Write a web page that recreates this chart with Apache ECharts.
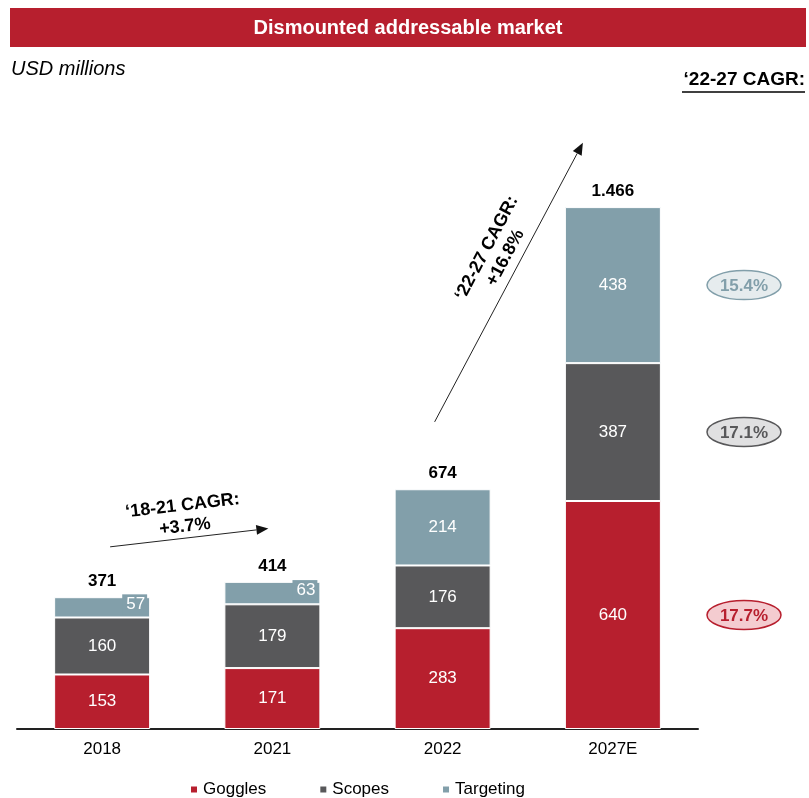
<!DOCTYPE html>
<html>
<head>
<meta charset="utf-8">
<script src="https://cdn.jsdelivr.net/npm/echarts@6/dist/echarts.min.js"></script>
<style>
  html, body { margin: 0; padding: 0; background: #fff; }
  #chart { width: 809px; height: 798px; }
</style>
</head>
<body>
<div id="chart"></div>
<script>
const categories = ['2018', '2021', '2022', '2027E']
const goggles = [153, 171, 283, 640]
const scopes = [160, 179, 176, 387]
const targeting = [57, 63, 214, 438]
const totals = [371, 414, 674, 1466]
const cagr2227 = ['17.7%', '17.1%', '15.4%'] // goggles, scopes, targeting
const cagr1821 = '+3.7%'
const cagrTotal2227 = '+16.8%'

const FONT = 'Liberation Sans, Arial, sans-serif'
const RED = '#B71F2E'
const GREY = '#58585A'
const BLUE = '#829FAA'

const chart = echarts.init(document.getElementById('chart'))

// thousands with dot, like 1.466
const fmt = (v) => String(v).replace(/\B(?=(\d{3})+(?!\d))/g, '.')

// small segments get their label pushed to the right with a coloured box
const segData = (arr, color) =>
  arr.map((v) => {
    if (v >= 100) return v
    return {
      value: v,
      label: {
        position: 'insideRight',
        offset: [2, -3],
        backgroundColor: color,
        padding: [3, 2, 0, 4]
      }
    }
  })

const segment = (name, arr, color) => ({
  name: name,
  type: 'bar',
  stack: 'total',
  barWidth: 96,
  itemStyle: { color: color, borderColor: '#fff', borderWidth: 1 },
  emphasis: { disabled: true },
  label: {
    show: true,
    position: 'inside',
    color: '#fff',
    fontSize: 17,
    fontFamily: FONT
  },
  data: segData(arr, color)
})

const options = {
  animation: false,
  grid: { left: 17, right: 111, top: 159, bottom: 69 },
  legend: {
    data: ['Goggles', 'Scopes', 'Targeting'],
    left: 184,
    top: 776,
    icon: 'rect',
    itemWidth: 8,
    itemHeight: 8,
    itemGap: 52,
    textStyle: { fontSize: 17, color: '#000', fontFamily: FONT }
  },
  xAxis: {
    type: 'category',
    data: categories,
    axisTick: { show: false },
    axisLine: { lineStyle: { color: '#222', width: 2 } },
    axisLabel: { color: '#000', fontSize: 17, margin: 12, fontFamily: FONT }
  },
  yAxis: {
    type: 'value',
    min: 0,
    max: 1600,
    show: false,
    splitLine: { show: false }
  },
  series: [
    segment('Goggles', goggles, RED),
    segment('Scopes', scopes, GREY),
    segment('Targeting', targeting, BLUE),
    {
      name: 'Total',
      type: 'line',
      data: totals,
      symbol: 'circle',
      symbolSize: 2,
      itemStyle: { color: 'rgba(0,0,0,0)' },
      lineStyle: { color: 'rgba(0,0,0,0)' },
      emphasis: { disabled: true },
      silent: true,
      label: {
        show: true,
        position: 'top',
        distance: 6,
        color: '#000',
        fontSize: 17,
        fontWeight: 'bold',
        fontFamily: FONT,
        formatter: (p) => fmt(p.value)
      }
    }
  ]
}
chart.setOption(options)

// annotations placed from the axes
const px = (i, v) => chart.convertToPixel({ gridIndex: 0 }, [i, v])

function arrow(p1, p2) {
  const dx = p2[0] - p1[0]
  const dy = p2[1] - p1[1]
  const len = Math.sqrt(dx * dx + dy * dy)
  const ux = dx / len
  const uy = dy / len
  const head = 12
  const hw = 5
  const bx = p2[0] - ux * head
  const by = p2[1] - uy * head
  return [
    {
      type: 'line',
      shape: { x1: p1[0], y1: p1[1], x2: bx, y2: by },
      style: { stroke: '#222', lineWidth: 1 }
    },
    {
      type: 'polygon',
      shape: { points: [[p2[0], p2[1]], [bx - uy * hw, by + ux * hw], [bx + uy * hw, by - ux * hw]] },
      style: { fill: '#111' }
    }
  ]
}

function arrowText(p1, p2, text, perp, along) {
  const dx = p2[0] - p1[0]
  const dy = p2[1] - p1[1]
  const len = Math.sqrt(dx * dx + dy * dy)
  const ux = dx / len
  const uy = dy / len
  const mx = (p1[0] + p2[0]) / 2 + uy * perp + ux * along
  const my = (p1[1] + p2[1]) / 2 - ux * perp + uy * along
  return {
    type: 'text',
    x: mx,
    y: my,
    rotation: Math.atan2(-dy, dx),
    style: {
      text: text,
      fill: '#000',
      font: 'bold 18px ' + FONT,
      lineHeight: 21,
      align: 'center',
      verticalAlign: 'middle'
    }
  }
}

const tops = totals.map((v, i) => px(i, v))
const a1s = [tops[0][0] + 8, tops[0][1] - 50]
const a1e = [tops[1][0] - 4, tops[1][1] - 53]
const a2s = [tops[2][0] - 8, tops[2][1] - 67]
const a2e = [tops[3][0] - 30, tops[3][1] - 64]

// CAGR bubbles next to the 2027E segments
const bubbleStyle = [
  { fill: '#F4CCD0', stroke: RED, text: RED },
  { fill: '#E0E0E1', stroke: GREY, text: GREY },
  { fill: '#E6ECEE', stroke: BLUE, text: BLUE }
]
const last = categories.length - 1
const segs = [goggles[last], scopes[last], targeting[last]]
const bubbles = []
let base = 0
segs.forEach((v, k) => {
  const p = px(last, base + v / 2)
  base += v
  bubbles.push({
    type: 'ellipse',
    shape: { cx: 744, cy: p[1], rx: 37, ry: 14.5 },
    style: { fill: bubbleStyle[k].fill, stroke: bubbleStyle[k].stroke, lineWidth: 1.5 }
  })
  bubbles.push({
    type: 'text',
    x: 744,
    y: p[1] + 1,
    style: {
      text: cagr2227[k],
      fill: bubbleStyle[k].text,
      font: 'bold 17px ' + FONT,
      align: 'center',
      verticalAlign: 'middle'
    }
  })
})

chart.setOption({
  graphic: [
    {
      type: 'rect',
      shape: { x: 10, y: 8, width: 796, height: 39 },
      style: { fill: RED }
    },
    {
      type: 'text',
      x: 408,
      y: 28,
      style: {
        text: 'Dismounted addressable market',
        fill: '#fff',
        font: 'bold 20px ' + FONT,
        align: 'center',
        verticalAlign: 'middle'
      }
    },
    {
      type: 'text',
      x: 11,
      y: 69,
      style: {
        text: 'USD millions',
        fill: '#000',
        font: 'italic 20px ' + FONT,
        align: 'left',
        verticalAlign: 'middle'
      }
    },
    {
      type: 'text',
      x: 805,
      y: 80,
      style: {
        text: '\u201822-27 CAGR:',
        fill: '#000',
        font: 'bold 19px ' + FONT,
        align: 'right',
        verticalAlign: 'middle'
      }
    },
    {
      type: 'line',
      shape: { x1: 682, y1: 92, x2: 805, y2: 92 },
      style: { stroke: '#000', lineWidth: 1.5 }
    },
    ...arrow(a1s, a1e),
    arrowText(a1s, a1e, '\u201818-21 CAGR:\n' + cagr1821, 22, -3),
    ...arrow(a2s, a2e),
    arrowText(a2s, a2e, '\u201822-27 CAGR:\n' + cagrTotal2227, 25, 20),
    ...bubbles
  ]
})
</script>
</body>
</html>
